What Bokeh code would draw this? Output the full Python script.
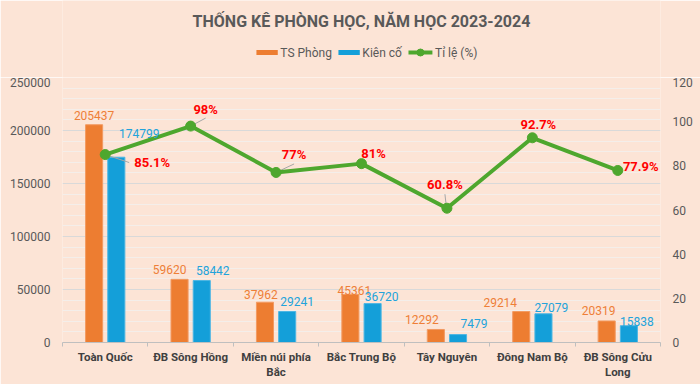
from bokeh.plotting import figure
from bokeh.layouts import column
from bokeh.models import (Range1d, LinearAxis, SingleIntervalTicker, FixedTicker,
                          Label, ColumnDataSource, BasicTickFormatter)
from bokeh.core.properties import value
from bokeh.embed import file_html
from bokeh.resources import INLINE

# ---------------- data ----------------
categories = ["Toàn Quốc", "ĐB Sông Hồng", "Miền núi phía\nBắc", "Bắc Trung Bộ",
              "Tây Nguyên", "Đông Nam Bộ", "ĐB Sông Cửu\nLong"]
ts_phong = [205437, 59620, 37962, 45361, 12292, 29214, 20319]
kien_co = [174799, 58442, 29241, 36720, 7479, 27079, 15838]
ti_le = [85.1, 98, 77, 81, 60.8, 92.7, 77.9]
title_text = "THỐNG KÊ PHÒNG HỌC, NĂM HỌC 2023-2024"
series_names = ["TS Phòng", "Kiên cố", "Tỉ lệ (%)"]

# label nudges in screen pixels (dx right, dy down)
ts_nudge = [(0, -9), (-10, -10), (-4, -8), (4, -4), (-14, -10), (-21, -9), (-8, -10)]
kc_nudge = [(23, -24), (11, -10), (10, -10), (9, -7), (16, -11), (8, -6), (8, -4.5)]
tl_nudge = [(47, 8), (15, -17), (18, -18), (12, -10), (-2, -24), (6, -13), (23, -4)]
# leader lines: (index, start dx, start dy, end dx, end dy) relative to the rate point
leaders = [(0, 0, 0, 24, 8), (0, 2, -1, 34, -11), (1, 0, 0, 15, -8),
           (2, 0, 0, 18, -8.5), (4, -0.5, -1, -2, -14)]

# legend layout in header pixels: swatch start x for each series, swatch length
legend_x = [227, 323, 405]
SWATCH = [25, 25, 28]
LEGEND_Y = 25

# ---------------- style ----------------
BG = "#FCE4D6"
ORANGE = "#ED7D31"
BLUE = "#149FD9"
GREEN = "#4EA72E"
FONT = "Roboto"
W = 700
HEAD_H = 77
MAIN_H = 307
FRAME_W, FRAME_H = 598, 265
Y_MAX, P_MAX = 250000, 120
BAR_W, DODGE = 0.2, 0.13

n = len(categories)
xc = [i + 0.5 for i in range(n)]
px_x = FRAME_W / n
px_p = FRAME_H / P_MAX

# ---------------- header (title + legend) ----------------
head = figure(width=W, height=HEAD_H, x_range=Range1d(0, W), y_range=Range1d(0, HEAD_H),
              x_axis_type=None, y_axis_type=None, min_border=0,
              output_backend="svg", toolbar_location=None)
head.grid.visible = False
head.background_fill_color = BG
head.border_fill_color = BG
head.outline_line_color = None
head.add_layout(Label(x=W / 2, y=56, text=title_text, text_align="center",
                      text_baseline="middle", text_font=FONT, text_font_style="bold",
                      text_font_size="16px", text_color="#595959"))
# legend
head.hbar(y=[LEGEND_Y] * 2, left=legend_x[:2],
          right=[x + s for x, s in zip(legend_x[:2], SWATCH[:2])],
          height=5, fill_color=[ORANGE, BLUE], line_color=None)
head.line([legend_x[2], legend_x[2] + SWATCH[2]], [LEGEND_Y] * 2,
          line_color=GREEN, line_width=4)
head.scatter([legend_x[2] + SWATCH[2] / 2], [LEGEND_Y], size=7,
             fill_color=GREEN, line_color=GREEN)
head.text(x=[x + s + 3 for x, s in zip(legend_x, SWATCH)], y=[LEGEND_Y] * 3,
          text=series_names, text_align="left", text_baseline="middle",
          text_font=value(FONT), text_font_size="12px", text_color="#595959")

# ---------------- main chart ----------------
p = figure(width=W, height=MAIN_H,
           min_border_left=62, min_border_right=40, min_border_top=0, min_border_bottom=42,
           x_range=Range1d(0, n), y_range=Range1d(0, Y_MAX), title=None,
           output_backend="svg", toolbar_location=None)
p.extra_y_ranges = {"pct": Range1d(0, P_MAX)}
p.background_fill_color = BG
p.border_fill_color = BG
p.outline_line_color = None

# grid
p.xgrid.grid_line_color = None
p.ygrid.grid_line_color = "#D9D9D9"
p.ygrid.minor_grid_line_color = "#F4EEEA"

# left axis
ya = p.yaxis[0]
ya.ticker = SingleIntervalTicker(interval=50000, num_minor_ticks=5)
ya.formatter = BasicTickFormatter(use_scientific=False)

# right axis
ra = LinearAxis(y_range_name="pct", ticker=SingleIntervalTicker(interval=20, num_minor_ticks=0))
p.add_layout(ra, "right")

for ax in (ya, ra):
    ax.axis_line_color = None
    ax.major_tick_line_color = None
    ax.minor_tick_line_color = None
    ax.major_tick_out = 0
    ax.minor_tick_out = 0
    ax.major_label_standoff = 12
    ax.major_label_text_font = FONT
    ax.major_label_text_font_size = "12px"
    ax.major_label_text_color = "#595959"

# bottom axis
xa = p.xaxis[0]
xa.ticker = FixedTicker(ticks=xc, minor_ticks=list(range(n + 1)))
xa.major_label_overrides = {x: c for x, c in zip(xc, categories)}
xa.axis_line_color = "#BFBFBF"
xa.major_tick_line_color = None
xa.major_tick_out = 0
xa.major_tick_in = 0
xa.minor_tick_line_color = "#BFBFBF"
xa.minor_tick_in = 0
xa.minor_tick_out = 4
xa.major_label_standoff = 3
xa.major_label_text_font = FONT
xa.major_label_text_font_style = "bold"
xa.major_label_text_font_size = "11.5px"
xa.major_label_text_line_height = 1.1
xa.major_label_text_color = "#404040"

# bars
xo = [x - DODGE for x in xc]
xb = [x + DODGE for x in xc]
p.vbar(x=xo, top=ts_phong, width=BAR_W, fill_color=ORANGE, line_color="#F29A62", line_width=1)
p.vbar(x=xb, top=kien_co, width=BAR_W, fill_color=BLUE, line_color="#4DB6E3", line_width=1)

# leader lines (converted from pixel nudges through the plot scales)
lx0 = [xc[i] + a / px_x for i, a, b, c, d in leaders]
ly0 = [ti_le[i] - b / px_p for i, a, b, c, d in leaders]
lx1 = [xc[i] + c / px_x for i, a, b, c, d in leaders]
ly1 = [ti_le[i] - d / px_p for i, a, b, c, d in leaders]
p.segment(x0=lx0, y0=ly0, x1=lx1, y1=ly1, y_range_name="pct",
          line_color="#A6A6A6", line_width=1)

# rate line
p.line(xc, ti_le, y_range_name="pct", line_color=GREEN, line_width=4)
p.scatter(xc, ti_le, y_range_name="pct", size=10, fill_color=GREEN, line_color=GREEN)

# value labels
def add_labels(xs, ys, texts, nudges, color, bold=False, size="12px", yr="default"):
    src = ColumnDataSource(dict(x=xs, y=ys, t=texts,
                                dx=[a for a, b in nudges], dy=[b for a, b in nudges]))
    p.text(x="x", y="y", text="t", x_offset="dx", y_offset="dy", source=src,
           y_range_name=yr, text_align="center", text_baseline="middle",
           text_font=value(FONT), text_font_size=size, text_color=color,
           text_font_style="bold" if bold else "normal")

add_labels(xo, ts_phong, [str(v) for v in ts_phong], ts_nudge, "#EE7F38")
add_labels(xb, kien_co, [str(v) for v in kien_co], kc_nudge, "#22A3DB")
add_labels(xc, ti_le, [f"{v:g}%" for v in ti_le], tl_nudge, "#FF0000", bold=True,
           size="13px", yr="pct")

layout = column(head, p, spacing=0)
html = file_html(layout, INLINE)
html = html.replace("<head>", "<head><style>html,body{margin:0;padding:0;overflow:hidden;}</style>", 1)
open("out.html", "w").write(html)
